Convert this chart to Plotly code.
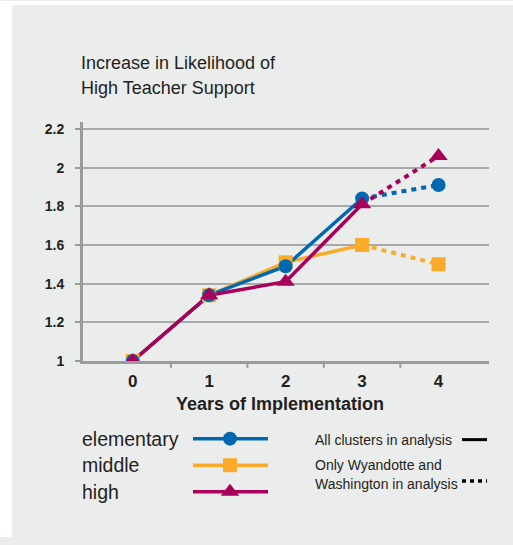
import plotly.graph_objects as go

# Years of implementation (category positions) and tick labels
years = [0, 1, 2, 3, 4]
year_labels = ["0", "1", "2", "3", "4"]

# Increase in likelihood of high teacher support, by school level
elementary = [1.0, 1.34, 1.49, 1.84, 1.91]
middle = [1.0, 1.34, 1.51, 1.60, 1.50]
high = [1.0, 1.34, 1.41, 1.81, 2.06]

# Years 0-3 use all clusters; year 4 only Wyandotte and Washington
solid_idx = [0, 1, 2, 3]
dotted_idx = [3, 4]

y_ticks = [1, 1.2, 1.4, 1.6, 1.8, 2, 2.2]
y_tick_labels = ["1", "1.2", "1.4", "1.6", "1.8", "2", "2.2"]

levels = ["elementary", "middle", "high"]
colors = {"elementary": "#0067b0", "middle": "#fbaa2a", "high": "#a8005a"}
symbols = {"elementary": "circle", "middle": "square", "high": "triangle-up"}
sizes = {"elementary": 14, "middle": 14, "high": 16}
values = {"elementary": elementary, "middle": middle, "high": high}

W, H = 513, 545
FONT = "Liberation Sans, Arial, sans-serif"
TXT = "#231f20"
BG = "#ebecec"
GRID = "#a7a9a9"
AXIS = "#9a9c9c"


def px(x):
    return x / W


def py(y):
    return 1 - y / H


def text(x, y, s, size, anchor="left", bold=False):
    fig.add_annotation(x=px(x), y=py(y), xref="paper", yref="paper",
                       text=s, showarrow=False, xanchor=anchor,
                       yanchor="middle", align="left",
                       font=dict(family=FONT, size=size, color=TXT,
                                 weight="bold" if bold else "normal"))


fig = go.Figure()

draw_order = ["middle", "elementary", "high"]
for lvl in draw_order:
    v = values[lvl]
    fig.add_trace(go.Scatter(
        x=[years[i] for i in dotted_idx], y=[v[i] for i in dotted_idx],
        mode="lines", line=dict(color=colors[lvl], width=4, dash="5px,5px"),
        showlegend=False, hoverinfo="skip"))
for lvl in draw_order:
    v = values[lvl]
    fig.add_trace(go.Scatter(
        x=[years[i] for i in solid_idx], y=[v[i] for i in solid_idx],
        mode="lines", line=dict(color=colors[lvl], width=3.5),
        showlegend=False, hoverinfo="skip"))
for lvl in draw_order:
    fig.add_trace(go.Scatter(
        x=years, y=values[lvl], mode="markers", name=lvl,
        marker=dict(color=colors[lvl], symbol=symbols[lvl], size=sizes[lvl],
                    line=dict(width=0)),
        showlegend=False))

# Legend samples drawn on a helper axis spanning the whole page
legend_y = {"elementary": 445, "middle": 472, "high": 499}
for lvl in levels:
    yy = legend_y[lvl]
    fig.add_trace(go.Scatter(
        x=[193, 268], y=[yy, yy], mode="lines", xaxis="x2", yaxis="y2",
        line=dict(color=colors[lvl], width=3.5), showlegend=False,
        hoverinfo="skip"))
    fig.add_trace(go.Scatter(
        x=[230], y=[yy], mode="markers", xaxis="x2", yaxis="y2",
        marker=dict(color=colors[lvl], symbol=symbols[lvl], size=sizes[lvl],
                    line=dict(width=0)),
        showlegend=False, hoverinfo="skip"))
    text(80, yy, lvl, 19.5)

fig.add_trace(go.Scatter(
    x=[462, 487], y=[446, 446], mode="lines", xaxis="x2", yaxis="y2",
    line=dict(color="black", width=3), showlegend=False, hoverinfo="skip"))
fig.add_trace(go.Scatter(
    x=[462, 487], y=[488, 488], mode="lines", xaxis="x2", yaxis="y2",
    line=dict(color="black", width=3.5, dash="4px,4px"), showlegend=False,
    hoverinfo="skip"))

text(313, 446, "All clusters in analysis", 14)
text(313, 472, "Only Wyandotte and", 14)
text(313, 491, "Washington in analysis", 14)

# Chart title
text(79, 63, "Increase in Likelihood of", 18)
text(79, 88, "High Teacher Support", 18)

# Axis title
text(280, 410, "Years of Implementation", 18, anchor="center", bold=True)

shapes = [
    dict(type="rect", xref="paper", yref="paper", x0=0, x1=px(12),
         y0=0, y1=1, fillcolor="white", line=dict(width=0), layer="below"),
    dict(type="rect", xref="paper", yref="paper", x0=0, x1=1,
         y0=py(4), y1=1, fillcolor="white", line=dict(width=0),
         layer="below"),
]
# Tick marks between the year categories
for b in [0.5, 1.5, 2.5, 3.5]:
    shapes.append(dict(type="line", xref="x", yref="paper", x0=b, x1=b,
                       y0=py(366), y1=py(373),
                       line=dict(color=AXIS, width=2)))

fig.update_layout(
    width=W, height=H, margin=dict(l=0, r=0, t=0, b=0),
    paper_bgcolor=BG, plot_bgcolor="rgba(0,0,0,0)",
    shapes=shapes,
    xaxis=dict(domain=[px(83), px(489)], range=[-0.65, 4.66],
               tickvals=years, ticktext=year_labels, ticks="",
               showgrid=False, zeroline=False, showline=True,
               linecolor=AXIS, linewidth=3,
               tickfont=dict(family=FONT, size=17, color=TXT,
                             weight="bold"),
               ticklabelstandoff=3, fixedrange=True),
    yaxis=dict(domain=[py(366), py(123)], range=[1, 2.236],
               tickvals=y_ticks, ticktext=y_tick_labels,
               ticks="outside", ticklen=5, tickcolor=AXIS, tickwidth=2,
               showgrid=True, gridcolor=GRID, gridwidth=1.5,
               zeroline=False, showline=True, linecolor=AXIS,
               linewidth=3,
               tickfont=dict(family=FONT, size=14, color=TXT,
                             weight="bold"),
               ticklabelstandoff=8, fixedrange=True),
    xaxis2=dict(domain=[0, 1], range=[0, W], visible=False,
                fixedrange=True, anchor="y2"),
    yaxis2=dict(domain=[0, 1], range=[H, 0], visible=False,
                fixedrange=True, anchor="x2"),
)

fig.write_html("out.html")
